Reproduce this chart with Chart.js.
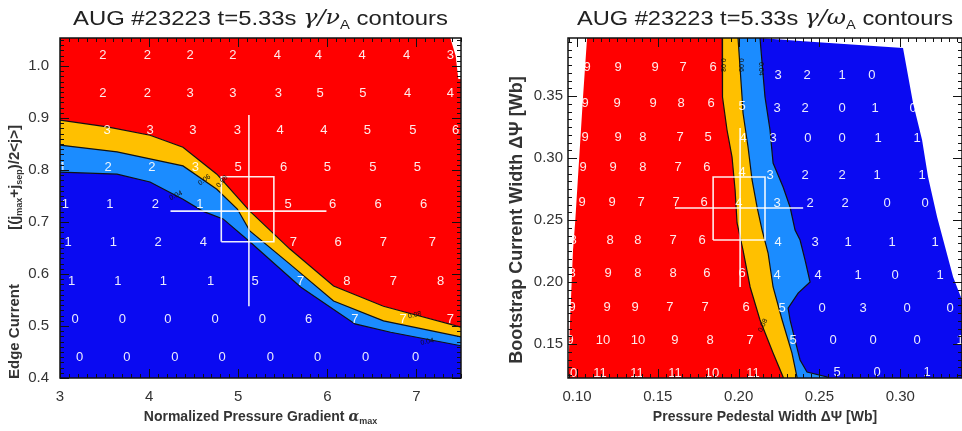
<!DOCTYPE html>
<html>
<head>
<meta charset="utf-8">
<script src="https://cdn.jsdelivr.net/npm/chart.js@4.4.0/dist/chart.umd.min.js"></script>
<style>
  html, body { margin: 0; padding: 0; background: #fff; }
  #wrap { position: relative; width: 962px; height: 431px; overflow: hidden; }
  canvas { position: absolute; top: 0; }
  #left { left: 0; }
  #right { left: 480px; }
</style>
</head>
<body>
<div id="wrap">
  <canvas id="left" width="480" height="431"></canvas>
  <canvas id="right" width="482" height="431"></canvas>
</div>
<script>
// ---------- left panel: gamma / nu_A over (alpha_max, edge current) ----------
var alphaLimits = [3, 7.5];
var edgeLimits = [0.4, 1.054];
var alphaTicks = [3, 4, 5, 6, 7];
var edgeTicks = [0.4, 0.5, 0.6, 0.7, 0.8, 0.9, 1.0];

// contour lines: [alpha_max, edge current]
var leftC08 = [[3,0.896],[3.53,0.883],[4.01,0.867],[4.38,0.844],[4.76,0.792],[5.13,0.721],[5.58,0.648],[6.07,0.577],[6.63,0.538],[7.5,0.498]];
var leftC06 = [[3,0.848],[3.64,0.835],[4.38,0.808],[4.76,0.763],[4.99,0.725],[5.13,0.683],[5.58,0.619],[6.07,0.548],[6.63,0.510],[7.5,0.479]];
var leftC04 = [[3,0.796],[3.64,0.792],[4.01,0.777],[4.38,0.744],[4.60,0.721],[4.83,0.706],[5.13,0.662],[5.70,0.575],[6.31,0.504],[6.71,0.488],[7.5,0.462]];
var leftNoData = [[7.38,1.054],[7.44,1.02],[7.47,0.975],[7.5,0.975]];

// growth rate numbers on the scan grid
var leftRowY = [1.021, 0.948, 0.877, 0.806, 0.733, 0.660, 0.585, 0.513, 0.440];
var leftRowX = [
  [3.48,3.98,4.46,4.94,5.44,5.90,6.39,6.89,7.38],
  [3.48,3.98,4.46,4.94,5.45,5.92,6.40,6.90,7.38],
  [3.53,4.01,4.49,4.99,5.47,5.96,6.45,6.96,7.44],
  [3.03,3.54,4.03,4.52,5.00,5.51,6.00,6.51,7.01],
  [3.06,3.56,4.07,4.57,5.56,6.06,6.57,7.08],
  [3.09,3.60,4.10,4.61,5.62,6.12,6.63,7.18],
  [3.13,3.65,4.16,4.69,5.19,5.70,6.22,6.74,7.27],
  [3.17,3.70,4.21,4.74,5.27,5.79,6.31,6.85,7.38],
  [3.22,3.75,4.29,4.82,5.36,5.89,6.43,6.99]
];
var leftRowV = [
  [2,2,2,2,4,4,4,4,3],
  [2,2,3,3,3,5,5,4,4],
  [3,3,3,3,4,4,5,5,6],
  [1,2,2,3,5,6,5,5,5],
  [1,1,2,1,5,6,6,6],
  [1,1,2,4,7,6,7,7],
  [1,1,1,1,5,7,8,7,8],
  [0,0,0,0,0,6,7,7,7],
  [0,0,0,0,0,0,0,0]
];
var leftTags = [[4.82,0.778,'0.08',-50],[4.62,0.781,'0.06',-35],[4.30,0.751,'0.04',-25],[6.98,0.521,'0.08',-14],[7.12,0.470,'0.04',-12]];

// experimental point with error bars
var leftPoint = [5.12, 0.721];
var leftErrX = [4.24, 5.99];
var leftErrY = [0.538, 0.906];
var leftBoxX = [4.81, 5.40];
var leftBoxY = [0.662, 0.787];

// ---------- right panel: gamma / omega_A over (pedestal width, bootstrap width) ----------
var pedLimits = [0.0944, 0.3382];
var bootLimits = [0.1226, 0.3968];
var pedTicks = [0.10, 0.15, 0.20, 0.25, 0.30];
var bootTicks = [0.15, 0.20, 0.25, 0.30, 0.35];

var rightNoDataLeft = [[0.1075,0.42],[0.1062,0.3968],[0.1037,0.3492],[0.0988,0.2476],[0.0975,0.2258],[0.0957,0.1694],[0.0944,0.1226],[0.094,0.10]];
var rightC08 = [[0.1897,0.42],[0.1897,0.3968],[0.1903,0.3492],[0.1928,0.3226],[0.1959,0.3008],[0.1978,0.2742],[0.1990,0.2476],[0.2027,0.2258],[0.2071,0.1960],[0.2132,0.1694],[0.2213,0.1427],[0.2275,0.1234],[0.2290,0.10]];
var rightC06 = [[0.1996,0.42],[0.1996,0.3968],[0.2021,0.3492],[0.2027,0.3363],[0.2058,0.3089],[0.2083,0.2823],[0.2114,0.2605],[0.2145,0.2419],[0.2182,0.2234],[0.2213,0.1960],[0.2269,0.1694],[0.2330,0.1427],[0.2361,0.1234],[0.2370,0.10]];
var rightC04 = [[0.2132,0.42],[0.2132,0.3968],[0.2145,0.3766],[0.2163,0.3492],[0.2194,0.3226],[0.2213,0.2960],[0.2275,0.2766],[0.2318,0.2605],[0.2349,0.2419],[0.2380,0.2339],[0.2411,0.2177],[0.2442,0.2000],[0.2368,0.1911],[0.2306,0.1790],[0.2318,0.1694],[0.2349,0.1532],[0.2380,0.1371],[0.2423,0.1274],[0.2547,0.1234],[0.2600,0.10]];
var rightNoDataEdge = [[0.2132,0.3968],[0.2380,0.3944],[0.3017,0.3887],[0.3079,0.3444],[0.3135,0.3145],[0.3172,0.2847],[0.3228,0.2524],[0.3327,0.2040],[0.3382,0.1855],[0.3494,0.1226],[0.3530,0.10]];

var rightCells = [
  [[0.1062,0.3734,9],[0.1254,0.3734,9],[0.1483,0.3734,9],[0.1656,0.3734,7],[0.1842,0.3734,6],[0.2244,0.3669,3],[0.2423,0.3669,2],[0.2640,0.3669,1],[0.2825,0.3669,0]],
  [[0.1050,0.3444,9],[0.1248,0.3444,9],[0.1470,0.3444,9],[0.1644,0.3444,8],[0.1829,0.3444,6],[0.2021,0.3419,5],[0.2238,0.3403,3],[0.2411,0.3403,2],[0.2640,0.3403,0],[0.2844,0.3403,1],[0.3079,0.3403,0]],
  [[0.1050,0.3169,9],[0.1254,0.3169,9],[0.1408,0.3169,8],[0.1637,0.3169,7],[0.1811,0.3169,5],[0.2027,0.3161,4],[0.2213,0.3161,3],[0.2429,0.3161,0],[0.2640,0.3161,0],[0.2863,0.3161,1],[0.3104,0.3161,1]],
  [[0.1037,0.2927,9],[0.1223,0.2927,9],[0.1408,0.2927,8],[0.1625,0.2927,7],[0.1804,0.2927,6],[0.2021,0.2887,4],[0.2194,0.2863,3],[0.2411,0.2863,2],[0.2640,0.2863,2],[0.2856,0.2863,1],[0.3135,0.2863,1]],
  [[0.1031,0.2645,9],[0.1217,0.2645,9],[0.1396,0.2645,7],[0.1613,0.2645,7],[0.1786,0.2645,6],[0.2002,0.2637,4],[0.2238,0.2637,3],[0.2442,0.2637,2],[0.2658,0.2637,2],[0.2918,0.2637,0],[0.3153,0.2637,0]],
  [[0.0975,0.2339,8],[0.1204,0.2339,8],[0.1377,0.2339,8],[0.1594,0.2339,7],[0.1774,0.2339,6],[0.2244,0.2323,4],[0.2473,0.2323,3],[0.2677,0.2323,1],[0.2949,0.2323,1],[0.3215,0.2323,1]],
  [[0.0969,0.2073,8],[0.1192,0.2073,9],[0.1377,0.2073,8],[0.1594,0.2073,8],[0.1804,0.2073,6],[0.2021,0.2073,6],[0.2238,0.2056,4],[0.2491,0.2056,4],[0.2739,0.2056,1],[0.2968,0.2056,0],[0.3246,0.2056,1]],
  [[0.0969,0.1798,9],[0.1186,0.1798,9],[0.1359,0.1798,9],[0.1575,0.1798,7],[0.1792,0.1798,7],[0.2046,0.1798,6],[0.2269,0.1790,5],[0.2516,0.1790,0],[0.2770,0.1790,3],[0.3042,0.1790,0],[0.3308,0.1790,0]],
  [[0.0957,0.1532,9],[0.1161,0.1532,10],[0.1377,0.1532,10],[0.1606,0.1532,9],[0.1823,0.1532,8],[0.2071,0.1532,7],[0.2337,0.1532,5],[0.2584,0.1532,0],[0.2832,0.1532,0],[0.3104,0.1532,0],[0.3370,0.1532,1]],
  [[0.0957,0.1266,10],[0.1142,0.1266,11],[0.1371,0.1266,11],[0.1606,0.1266,11],[0.1835,0.1266,10],[0.2089,0.1266,11],[0.2609,0.1274,5],[0.2856,0.1274,0],[0.3166,0.1274,1]]
];
var rightTags = [[0.1900,0.375,'0.08',90],[0.2015,0.375,'0.06',90],[0.2140,0.372,'0.04',90],[0.2150,0.165,'0.08',-65]];

var rightPoint = [0.2009, 0.2597];
var rightErrX = [0.1606, 0.2399];
var rightErrY = [0.1960, 0.3242];
var rightBoxX = [0.1842, 0.2163];
var rightBoxY = [0.2339, 0.2847];

var RED = '#ff0000', YELLOW = '#ffc000', LIGHTBLUE = '#1b8cff', BLUE = '#0a0af2';

// ---------- helpers ----------
function pts(list) {
  return list.map(function(p) { return { x: p[0], y: p[1] }; });
}
function area(list, color, order) {
  return { data: pts(list), showLine: true, fill: 'shape', backgroundColor: color,
           borderWidth: 0, pointRadius: 0, pointHoverRadius: 0, order: order };
}
function line(list, color, width, order) {
  return { data: pts(list), showLine: true, fill: false, borderColor: color,
           borderWidth: width, pointRadius: 0, pointHoverRadius: 0, order: order };
}
function errorMarks(p, ex, ey, bx, by) {
  var c = 'rgba(255,255,255,0.92)';
  return [
    line([[ex[0], p[1]], [ex[1], p[1]]], c, 1.6, 1),
    line([[p[0], ey[0]], [p[0], ey[1]]], c, 1.6, 1),
    line([[bx[0], by[0]], [bx[1], by[0]], [bx[1], by[1]], [bx[0], by[1]], [bx[0], by[0]]], c, 1.6, 1)
  ];
}

function fontOf(kind, f) {
  if (kind === 's') return f.weight + ' ' + Math.round(f.size * 0.62) + 'px ' + f.family;
  if (kind === 'g') return 'italic ' + f.weight + ' ' + f.size + 'px "DejaVu Serif"';
  return f.weight + ' ' + f.size + 'px ' + f.family;
}
function drawRich(ctx, parts, x, y, f, angle, width) {
  ctx.save();
  ctx.translate(x, y);
  ctx.rotate(angle);
  var total = 0;
  var ws = parts.map(function(p) {
    ctx.font = fontOf(p[1], f);
    var w = ctx.measureText(p[0]).width;
    total += w;
    return w;
  });
  if (width) ctx.scale(width / total, 1);
  ctx.fillStyle = f.color;
  ctx.textBaseline = 'middle';
  ctx.textAlign = 'left';
  var cx = -total / 2;
  parts.forEach(function(p, i) {
    ctx.font = fontOf(p[1], f);
    ctx.fillText(p[0], cx, p[1] === 's' ? f.size * 0.32 : 0);
    cx += ws[i];
  });
  ctx.restore();
}

// numbers on the grid and the small contour level tags
var cellText = {
  id: 'cellText',
  afterDatasetsDraw: function(chart, args, o) {
    var ctx = chart.ctx, a = chart.chartArea, sx = chart.scales.x, sy = chart.scales.y;
    ctx.save();
    ctx.beginPath();
    ctx.rect(a.left, a.top, a.right - a.left, a.bottom - a.top);
    ctx.clip();
    ctx.textAlign = 'center';
    ctx.textBaseline = 'middle';
    ctx.fillStyle = 'rgba(255,255,255,0.92)';
    ctx.font = o.font;
    o.cells.forEach(function(c) {
      ctx.fillText(String(c[2]), sx.getPixelForValue(c[0]), sy.getPixelForValue(c[1]));
    });
    ctx.fillStyle = '#111';
    ctx.font = o.tagFont;
    o.tags.forEach(function(t) {
      ctx.save();
      ctx.translate(sx.getPixelForValue(t[0]), sy.getPixelForValue(t[1]));
      ctx.rotate(t[3] * Math.PI / 180);
      ctx.fillText(t[2], 0, 0);
      ctx.restore();
    });
    ctx.restore();
  }
};

// IDL style frame: inward ticks on all four sides, titles with subscripts
var frame = {
  id: 'frame',
  afterDraw: function(chart, args, o) {
    var ctx = chart.ctx, a = chart.chartArea, sx = chart.scales.x, sy = chart.scales.y;
    ctx.save();
    ctx.strokeStyle = '#111';
    ctx.lineWidth = 1;
    function seg(x1, y1, x2, y2) { ctx.beginPath(); ctx.moveTo(x1, y1); ctx.lineTo(x2, y2); ctx.stroke(); }
    function run(scale, step, len, vertical) {
      var i0 = Math.ceil(scale.min / step - 1e-6), i1 = Math.floor(scale.max / step + 1e-6);
      for (var i = i0; i <= i1; i++) {
        var p = Math.round(scale.getPixelForValue(i * step)) + 0.5;
        if (vertical) { seg(p, a.bottom, p, a.bottom - len); seg(p, a.top, p, a.top + len); }
        else { seg(a.left, p, a.left + len, p); seg(a.right, p, a.right - len, p); }
      }
    }
    run(sx, o.minorX, 4, true);
    run(sx, o.majorX, 9, true);
    run(sy, o.minorY, 4, false);
    run(sy, o.majorY, 9, false);
    ctx.lineWidth = 1.5;
    ctx.strokeRect(a.left, a.top, a.right - a.left, a.bottom - a.top);
    ctx.restore();

    drawRich(ctx, o.title, (a.left + a.right) / 2, o.titleY, o.titleFont, 0, o.titleWidth);
    drawRich(ctx, o.xTitle, (a.left + a.right) / 2, a.bottom + o.xTitleGap, o.xFont, 0, 0);
    drawRich(ctx, o.yTitle, a.left - o.yTitleGap, o.yTitleY, o.yFont, -Math.PI / 2, 0);
  }
};

var tickFont = { family: '"Liberation Sans", Arial, sans-serif', size: 15 };
var titleFont = { family: '"Liberation Sans", Arial, sans-serif', size: 21, weight: 'normal', color: '#222' };

function scaleX(limits, ticks, fmt, pad) {
  return {
    type: 'linear', min: limits[0], max: limits[1],
    afterBuildTicks: function(s) { s.ticks = ticks.map(function(v) { return { value: v }; }); },
    afterFit: function(s) { s.height = 53; },
    ticks: { callback: fmt, font: tickFont, color: '#333', padding: pad, autoSkip: false, maxRotation: 0 },
    grid: { display: false, drawTicks: false },
    border: { display: false }
  };
}
function scaleY(limits, ticks, fmt, pad, width) {
  return {
    type: 'linear', min: limits[0], max: limits[1],
    afterBuildTicks: function(s) { s.ticks = ticks.map(function(v) { return { value: v }; }); },
    afterFit: function(s) { s.width = width; },
    ticks: { callback: fmt, font: tickFont, color: '#333', padding: pad, autoSkip: false },
    grid: { display: false, drawTicks: false },
    border: { display: false }
  };
}

// ---------- left chart ----------
var leftCellList = [];
leftRowY.forEach(function(y, r) {
  leftRowX[r].forEach(function(x, i) { leftCellList.push([x, y, leftRowV[r][i]]); });
});

new Chart(document.getElementById('left'), {
  type: 'scatter',
  data: {
    datasets: [
      area(leftC08.concat([[7.6, 1.1], [2.9, 1.1]]), RED, 10),
      area(leftC08.concat([[7.6, 0.3], [2.9, 0.3]]), YELLOW, 9),
      area(leftC06.concat([[7.6, 0.3], [2.9, 0.3]]), LIGHTBLUE, 8),
      area(leftC04.concat([[7.6, 0.3], [2.9, 0.3]]), BLUE, 7),
      area(leftNoData.concat([[7.6, 0.975], [7.6, 1.1], [7.38, 1.1]]), '#fff', 6),
      line(leftC08, '#111', 1.2, 3),
      line(leftC06, '#111', 1.2, 3),
      line(leftC04, '#111', 1.2, 3)
    ].concat(errorMarks(leftPoint, leftErrX, leftErrY, leftBoxX, leftBoxY))
  },
  options: {
    responsive: false,
    animation: false,
    events: [],
    layout: { padding: { left: 0, right: 19, top: 38, bottom: 0 } },
    scales: {
      x: scaleX(alphaLimits, alphaTicks, function(v) { return String(v); }, 10),
      y: scaleY(edgeLimits, edgeTicks, function(v) { return v.toFixed(1); }, 11, 60)
    },
    plugins: {
      legend: { display: false },
      tooltip: { enabled: false },
      cellText: { cells: leftCellList, tags: leftTags, font: '13px "Liberation Sans", sans-serif', tagFont: '7px "Liberation Sans", sans-serif' },
      frame: {
        majorX: 1, minorX: 0.1, majorY: 0.1, minorY: 0.01,
        title: [['AUG #23223 t=5.33s ', ''], ['\u03b3/\u03bd', 'g'], ['A', 's'], [' contours', '']],
        titleY: 19, titleFont: titleFont, titleWidth: 375,
        xTitle: [['Normalized Pressure Gradient ', ''], ['\u03b1', 'g'], ['max', 's']],
        xTitleGap: 39,
        xFont: { family: '"Liberation Sans", Arial, sans-serif', size: 14, weight: 'bold', color: '#333' },
        yTitle: [['Edge Current             [(j', ''], ['max', 's'], ['+j', ''], ['sep', 's'], [')/2<j>]', '']],
        yTitleGap: 45, yTitleY: 252,
        yFont: { family: '"Liberation Sans", Arial, sans-serif', size: 15, weight: 'bold', color: '#333' }
      }
    }
  },
  plugins: [cellText, frame]
});

// ---------- right chart ----------
var rightCellList = [];
rightCells.forEach(function(row) { rightCellList = rightCellList.concat(row); });

new Chart(document.getElementById('right'), {
  type: 'scatter',
  data: {
    datasets: [
      area(rightNoDataLeft.concat([[0.40, 0.10], [0.40, 0.42]]), RED, 10),
      area(rightC08.concat([[0.40, 0.10], [0.40, 0.42]]), YELLOW, 9),
      area(rightC06.concat([[0.40, 0.10], [0.40, 0.42]]), LIGHTBLUE, 8),
      area(rightC04.concat([[0.40, 0.10], [0.40, 0.42]]), BLUE, 7),
      area(rightNoDataEdge.concat([[0.40, 0.10], [0.40, 0.42], [0.2132, 0.42]]), '#fff', 6),
      line(rightC08, '#111', 1.2, 3),
      line(rightC06, '#111', 1.2, 3),
      line(rightC04, '#111', 1.2, 3)
    ].concat(errorMarks(rightPoint, rightErrX, rightErrY, rightBoxX, rightBoxY))
  },
  options: {
    responsive: false,
    animation: false,
    events: [],
    layout: { padding: { left: 0, right: 0, top: 38, bottom: 0 } },
    scales: {
      x: scaleX(pedLimits, pedTicks, function(v) { return v.toFixed(2); }, 10),
      y: scaleY(bootLimits, bootTicks, function(v) { return v.toFixed(2); }, 5, 88)
    },
    plugins: {
      legend: { display: false },
      tooltip: { enabled: false },
      cellText: { cells: rightCellList, tags: rightTags, font: '13px "Liberation Sans", sans-serif', tagFont: '7px "Liberation Sans", sans-serif' },
      frame: {
        majorX: 0.05, minorX: 0.005, majorY: 0.05, minorY: 0.00625,
        title: [['AUG #23223 t=5.33s ', ''], ['\u03b3/\u03c9', 'g'], ['A', 's'], [' contours', '']],
        titleY: 19, titleFont: titleFont, titleWidth: 376,
        xTitle: [['Pressure Pedestal Width \u0394\u03a8 [Wb]', '']],
        xTitleGap: 39,
        xFont: { family: '"Liberation Sans", Arial, sans-serif', size: 14, weight: 'bold', color: '#333' },
        yTitle: [['Bootstrap Current Width \u0394\u03a8 [Wb]', '']],
        yTitleGap: 51, yTitleY: 220,
        yFont: { family: '"Liberation Sans", Arial, sans-serif', size: 18, weight: 'bold', color: '#333' }
      }
    }
  },
  plugins: [cellText, frame]
});
</script>
</body>
</html>
